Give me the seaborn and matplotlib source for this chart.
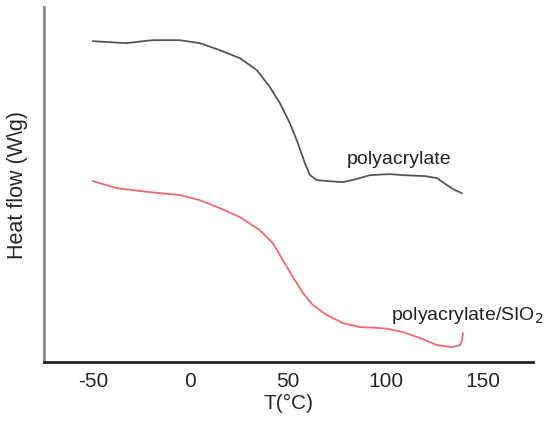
import matplotlib
matplotlib.use("Agg")
import matplotlib.pyplot as plt
import seaborn as sns
import pandas as pd

# DSC traces: temperature (°C) and heat flow (arbitrary offset units)
t_poly = [-50, -41.3, -32.6, -25.9, -19.2, -5.4, 4.9, 15.1, 25.4, 34.1, 40.8,
          45.9, 51.0, 55.1, 58.7, 61.3, 64.9, 70.5, 78.2, 85.0, 92.1, 102.3,
          109.0, 120.3, 126.4, 131.5, 135.6, 139.2]
hf_poly = [15.1, 15.05, 15.0, 15.08, 15.15, 15.15, 15.0, 14.65, 14.25, 13.65, 12.8,
           12.0, 11.0, 10.0, 9.0, 8.4, 8.15, 8.1, 8.05, 8.2, 8.4, 8.45,
           8.4, 8.35, 8.25, 7.9, 7.65, 7.5]

t_sio2 = [-50, -37.7, -20.8, -5.4, 4.9, 15.1, 25.4, 35.6, 42.3, 47.4, 52.6,
          57.7, 62.8, 70.0, 78.2, 86.9, 94.0, 100.8, 109.0, 117.7, 126.4,
          134.1, 138.2, 139.2, 139.7]
hf_sio2 = [8.1, 7.75, 7.55, 7.4, 7.15, 6.75, 6.3, 5.65, 5.0, 4.15, 3.3,
           2.5, 1.9, 1.4, 1.0, 0.8, 0.77, 0.72, 0.55, 0.25, -0.1,
           -0.2, -0.1, 0.15, 0.5]

x_ticks = [-50, 0, 50, 100, 150]

df_poly = pd.DataFrame({"T": t_poly, "HF": hf_poly})
df_sio2 = pd.DataFrame({"T": t_sio2, "HF": hf_sio2})

sns.set_style("white")
plt.rcParams["font.family"] = ["Liberation Sans", "DejaVu Sans"]

fig = plt.figure(figsize=(5.47, 4.22), dpi=100)
ax = fig.add_axes([0.0804, 0.142, 0.894, 0.841])

line_kw = dict(sort=False, estimator=None, linewidth=1.3,
               solid_joinstyle="round", solid_capstyle="round", ax=ax)
sns.lineplot(data=df_poly, x="T", y="HF", color="#555555", **line_kw)
sns.lineplot(data=df_sio2, x="T", y="HF", color="#ee6a72", **line_kw)

ax.set_xlim(-75, 175.6)
ax.set_ylim(-0.95, 16.8)
ax.set_xticks(x_ticks)
ax.set_xticklabels([str(v) for v in x_ticks], fontsize=15)
ax.set_yticks(range(0, 17))
ax.set_yticklabels([])
ax.tick_params(axis="x", length=0, pad=7)
ax.tick_params(axis="y", direction="in", length=2, width=1, color="#999999")

for side in ("top", "right"):
    ax.spines[side].set_visible(False)
ax.spines["left"].set_color("#8a8a8a")
ax.spines["left"].set_linewidth(2)
ax.spines["bottom"].set_color("#222222")
ax.spines["bottom"].set_linewidth(2)

ax.set_xlabel("T(°C)", fontsize=15, labelpad=2)
ax.set_ylabel("Heat flow (W\\g)", fontsize=15.5, labelpad=8)

ax.text(80, 9.2, "polyacrylate", fontsize=14, color="#222222", ha="left", va="center")
ax.text(103, 1.4, "polyacrylate/SIO$_2$", fontsize=14, color="#222222",
        ha="left", va="center", clip_on=False)

fig.savefig("out.png", dpi=100)
